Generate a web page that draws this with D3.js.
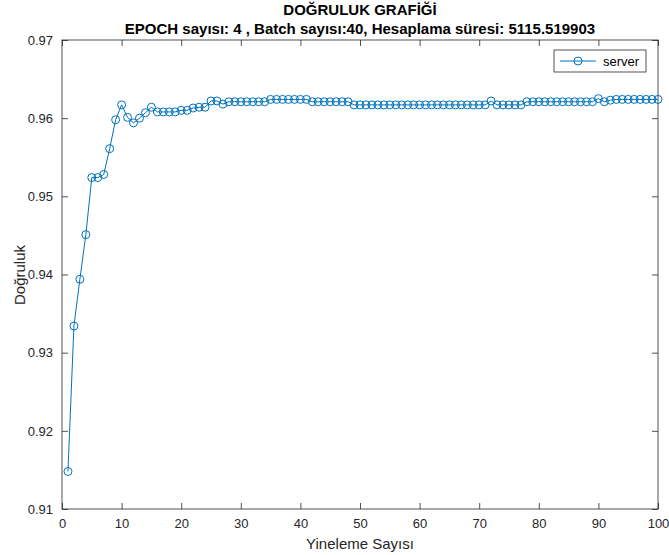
<!DOCTYPE html>
<html>
<head>
<meta charset="utf-8">
<script src="https://cdn.jsdelivr.net/npm/d3@7"></script>
<style>
  body { margin: 0; background: #fff; }
  svg { font-family: "Liberation Sans", Arial, sans-serif; }
</style>
</head>
<body>
<div id="chart"></div>
<script>
// accuracy per iteration (x = 1..100)
const iterations = d3.range(1, 101);
const accuracy = [
  0.9148, 0.9334, 0.9394, 0.9451, 0.9524, 0.9524, 0.9528, 0.9561, 0.9598, 0.9617,
  0.9601, 0.9594, 0.9600, 0.9607, 0.9614, 0.9608, 0.9608, 0.9608, 0.9608, 0.9610,
  0.9610, 0.9613, 0.9614, 0.9614, 0.9622, 0.9622, 0.9618, 0.9621, 0.9621, 0.9621,
  0.9621, 0.9621, 0.9621, 0.9621, 0.9624, 0.9624, 0.9624, 0.9624, 0.9624, 0.9624,
  0.9624, 0.9621, 0.9621, 0.9621, 0.9621, 0.9621, 0.9621, 0.9621, 0.9617, 0.9617,
  0.9617, 0.9617, 0.9617, 0.9617, 0.9617, 0.9617, 0.9617, 0.9617, 0.9617, 0.9617,
  0.9617, 0.9617, 0.9617, 0.9617, 0.9617, 0.9617, 0.9617, 0.9617, 0.9617, 0.9617,
  0.9617, 0.9622, 0.9617, 0.9617, 0.9617, 0.9617, 0.9617, 0.9621, 0.9621, 0.9621,
  0.9621, 0.9621, 0.9621, 0.9621, 0.9621, 0.9621, 0.9621, 0.9621, 0.9621, 0.9625,
  0.9621, 0.9623, 0.9624, 0.9624, 0.9624, 0.9624, 0.9624, 0.9624, 0.9624, 0.9624
];
const xTicks = d3.range(0, 101, 10);
const yTicks = [0.91, 0.92, 0.93, 0.94, 0.95, 0.96, 0.97];
const seriesName = "server";
const title1 = "DOĞRULUK GRAFİĞİ";
const title2 = "EPOCH sayısı: 4 , Batch sayısı:40, Hesaplama süresi: 5115.519903";

const width = 669, height = 555;
const margin = { top: 40, right: 11, bottom: 46, left: 62 };
const lineColor = "#0072bd";
const axisColor = "#262626";

const svg = d3.select("#chart").append("svg")
  .attr("width", width)
  .attr("height", height);

const x = d3.scaleLinear().domain([0, 100]).range([margin.left, width - margin.right]);
const y = d3.scaleLinear().domain([0.91, 0.97]).range([height - margin.bottom, margin.top]);

// axes with inward ticks on all four sides (box on)
function styleAxis(g) {
  g.select(".domain").remove();
  g.selectAll(".tick line").attr("stroke", axisColor).attr("stroke-width", 0.8);
  g.selectAll(".tick text").attr("fill", axisColor).attr("font-size", 13);
}

svg.append("g")
  .attr("transform", `translate(0,${y.range()[0]})`)
  .call(d3.axisBottom(x).tickValues(xTicks).tickSize(-6).tickPadding(10).tickFormat(d3.format("d")))
  .call(styleAxis);

svg.append("g")
  .attr("transform", `translate(0,${y.range()[1]})`)
  .call(d3.axisTop(x).tickValues(xTicks).tickSize(-6).tickFormat(""))
  .call(styleAxis);

svg.append("g")
  .attr("transform", `translate(${x.range()[0]},0)`)
  .call(d3.axisLeft(y).tickValues(yTicks).tickSize(-6).tickPadding(9).tickFormat(d3.format(".2f")))
  .call(styleAxis);

svg.append("g")
  .attr("transform", `translate(${x.range()[1]},0)`)
  .call(d3.axisRight(y).tickValues(yTicks).tickSize(-6).tickFormat(""))
  .call(styleAxis);

svg.append("rect")
  .attr("x", x.range()[0])
  .attr("y", y.range()[1])
  .attr("width", x.range()[1] - x.range()[0])
  .attr("height", y.range()[0] - y.range()[1])
  .attr("fill", "none")
  .attr("stroke", axisColor)
  .attr("stroke-width", 0.8);

// series
const data = iterations.map((it, i) => ({ it: it, acc: accuracy[i] }));

svg.append("path")
  .datum(data)
  .attr("fill", "none")
  .attr("stroke", lineColor)
  .attr("stroke-width", 1)
  .attr("d", d3.line().x(d => x(d.it)).y(d => y(d.acc)));

svg.selectAll("circle.pt")
  .data(data)
  .enter()
  .append("circle")
  .attr("class", "pt")
  .attr("cx", d => x(d.it))
  .attr("cy", d => y(d.acc))
  .attr("r", 4)
  .attr("fill", "none")
  .attr("stroke", lineColor)
  .attr("stroke-width", 1);

// titles and labels
svg.append("text")
  .attr("x", 360).attr("y", 15)
  .attr("text-anchor", "middle")
  .attr("font-size", 15).attr("font-weight", "bold")
  .attr("fill", "#000")
  .text(title1);

svg.append("text")
  .attr("x", 360).attr("y", 34)
  .attr("text-anchor", "middle")
  .attr("font-size", 15).attr("font-weight", "bold")
  .attr("fill", "#000")
  .text(title2);

svg.append("text")
  .attr("x", 360).attr("y", 549)
  .attr("text-anchor", "middle")
  .attr("font-size", 15)
  .attr("fill", axisColor)
  .text("Yineleme Sayısı");

svg.append("text")
  .attr("transform", "translate(25,275) rotate(-90)")
  .attr("text-anchor", "middle")
  .attr("font-size", 15)
  .attr("fill", axisColor)
  .text("Doğruluk");

// legend
const legend = svg.append("g").attr("transform", "translate(554,50)");
legend.append("rect")
  .attr("width", 92).attr("height", 22)
  .attr("fill", "#fff")
  .attr("stroke", axisColor)
  .attr("stroke-width", 0.8);
legend.append("line")
  .attr("x1", 6).attr("x2", 42).attr("y1", 11).attr("y2", 11)
  .attr("stroke", lineColor).attr("stroke-width", 1);
legend.append("circle")
  .attr("cx", 24).attr("cy", 11).attr("r", 4)
  .attr("fill", "none").attr("stroke", lineColor).attr("stroke-width", 1);
legend.append("text")
  .attr("x", 49).attr("y", 15.5)
  .attr("font-size", 13)
  .attr("fill", "#000")
  .text(seriesName);
</script>
</body>
</html>
